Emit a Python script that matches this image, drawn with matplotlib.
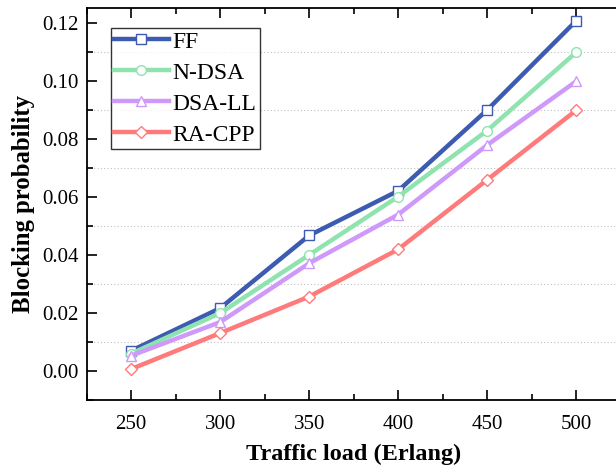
import matplotlib
matplotlib.use("Agg")
import matplotlib.pyplot as plt
from matplotlib.ticker import MultipleLocator, FormatStrFormatter

plt.rcParams['font.family'] = ['Liberation Serif', 'DejaVu Serif']

loads = [250, 300, 350, 400, 450, 500]
ff = [0.0070, 0.0217, 0.0468, 0.0622, 0.0901, 0.1209]
ndsa = [0.0060, 0.0200, 0.0401, 0.0602, 0.0830, 0.1100]
dsall = [0.0053, 0.0169, 0.0372, 0.0540, 0.0780, 0.1000]
racpp = [0.0007, 0.0131, 0.0257, 0.0420, 0.0660, 0.0900]

series = [
    ("FF", ff, "#3D5BB0", "s", 6.5),
    ("N-DSA", ndsa, "#8FE3AE", "o", 7),
    ("DSA-LL", dsall, "#CE99FA", "^", 7.5),
    ("RA-CPP", racpp, "#FF7B7B", "D", 6.5),
]

fig = plt.figure(figsize=(6.16, 4.70), dpi=100)
ax = fig.add_axes([86.7/616, 70/470, 534/616, 392/470])

for name, vals, col, mk, ms in series:
    ax.plot(loads, vals, color=col, lw=3.2, marker=mk, markersize=ms,
            markerfacecolor="white", markeredgecolor=col, markeredgewidth=1.0,
            label=name, zorder=3)

ax.set_xlim(225, 525)
ax.set_ylim(-0.010, 0.1253)
ax.xaxis.set_major_locator(MultipleLocator(50))
ax.xaxis.set_minor_locator(MultipleLocator(25))
ax.yaxis.set_major_locator(MultipleLocator(0.02))
ax.yaxis.set_minor_locator(MultipleLocator(0.01))
ax.yaxis.set_major_formatter(FormatStrFormatter('%.2f'))
ax.tick_params(which='both', direction='in', top=True, right=False, labelsize=15, width=1.2)
ax.tick_params(which='major', length=7)
ax.tick_params(which='minor', length=4)
ax.tick_params(axis='x', pad=11)
ax.tick_params(axis='y', pad=6)
for s in ax.spines.values():
    s.set_linewidth(1.3)

# dotted grid at minor y positions
for yv in [0.01, 0.03, 0.05, 0.07, 0.09, 0.11]:
    ax.axhline(yv, color="#c0c0c0", lw=0.8, ls=(0, (1, 2)), zorder=1)

ax.set_xlabel("Traffic load (Erlang)", fontsize=17.5, fontweight='bold', labelpad=7)
ax.set_ylabel("Blocking probability", fontsize=17.8, fontweight='bold', labelpad=5)

leg = ax.legend(loc='upper left', bbox_to_anchor=(0.045, 0.95), fontsize=17,
                frameon=True, fancybox=False, edgecolor='black', handlelength=2.3,
                handletextpad=0.15, labelspacing=0.4, borderpad=0.15, borderaxespad=0)
leg.get_frame().set_linewidth(1.0)

fig.savefig("out.png", dpi=100)
